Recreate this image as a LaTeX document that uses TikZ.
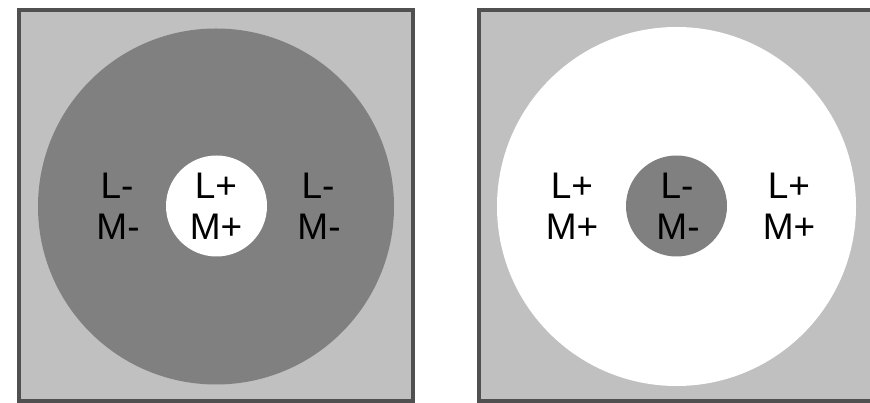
\documentclass[tikz,border=0pt]{standalone}
\usepackage{fontspec}
\setmainfont{Liberation Sans}
\definecolor{lightg}{HTML}{C0C0C0}
\definecolor{darkg}{HTML}{808080}
\definecolor{frameg}{HTML}{505050}
\begin{document}
\begin{tikzpicture}[x=1pt,y=1pt,
  frame/.style={draw=frameg,line width=4pt,fill=lightg},
  lab/.style={anchor=base,inner sep=0pt,font=\fontsize{37}{40}\selectfont}]
\useasboundingbox (0,0) rectangle (870,403);
\begin{scope}
\clip (0,0) rectangle (870,403);
% left panel
\path[frame] (18.7,1.5) rectangle (413,392.7);
\fill[darkg] (216,196.5) circle (178);
\fill[white] (216.5,197) circle (50.5);
% right panel
\path[frame] (478.5,1.5) rectangle (872.5,392.7);
\fill[white] (676.5,196.5) circle (179.5);
\fill[darkg] (676.5,197) circle (50.5);
\end{scope}
% left labels
\node[lab] (l1) at (117,204) {L-};
\node[lab] (l2) at (118,163) {M-};
\node[lab] (l3) at (216,204) {L+};
\node[lab] (l4) at (216,163) {M+};
\node[lab] (l5) at (318,204) {L-};
\node[lab] (l6) at (319,163) {M-};
% right labels
\node[lab] (r1) at (572,204) {L+};
\node[lab] (r2) at (572,163) {M+};
\node[lab] (r3) at (677,204) {L-};
\node[lab] (r4) at (678,163) {M-};
\node[lab] (r5) at (789,204) {L+};
\node[lab] (r6) at (789,163) {M+};
\end{tikzpicture}
\end{document}
